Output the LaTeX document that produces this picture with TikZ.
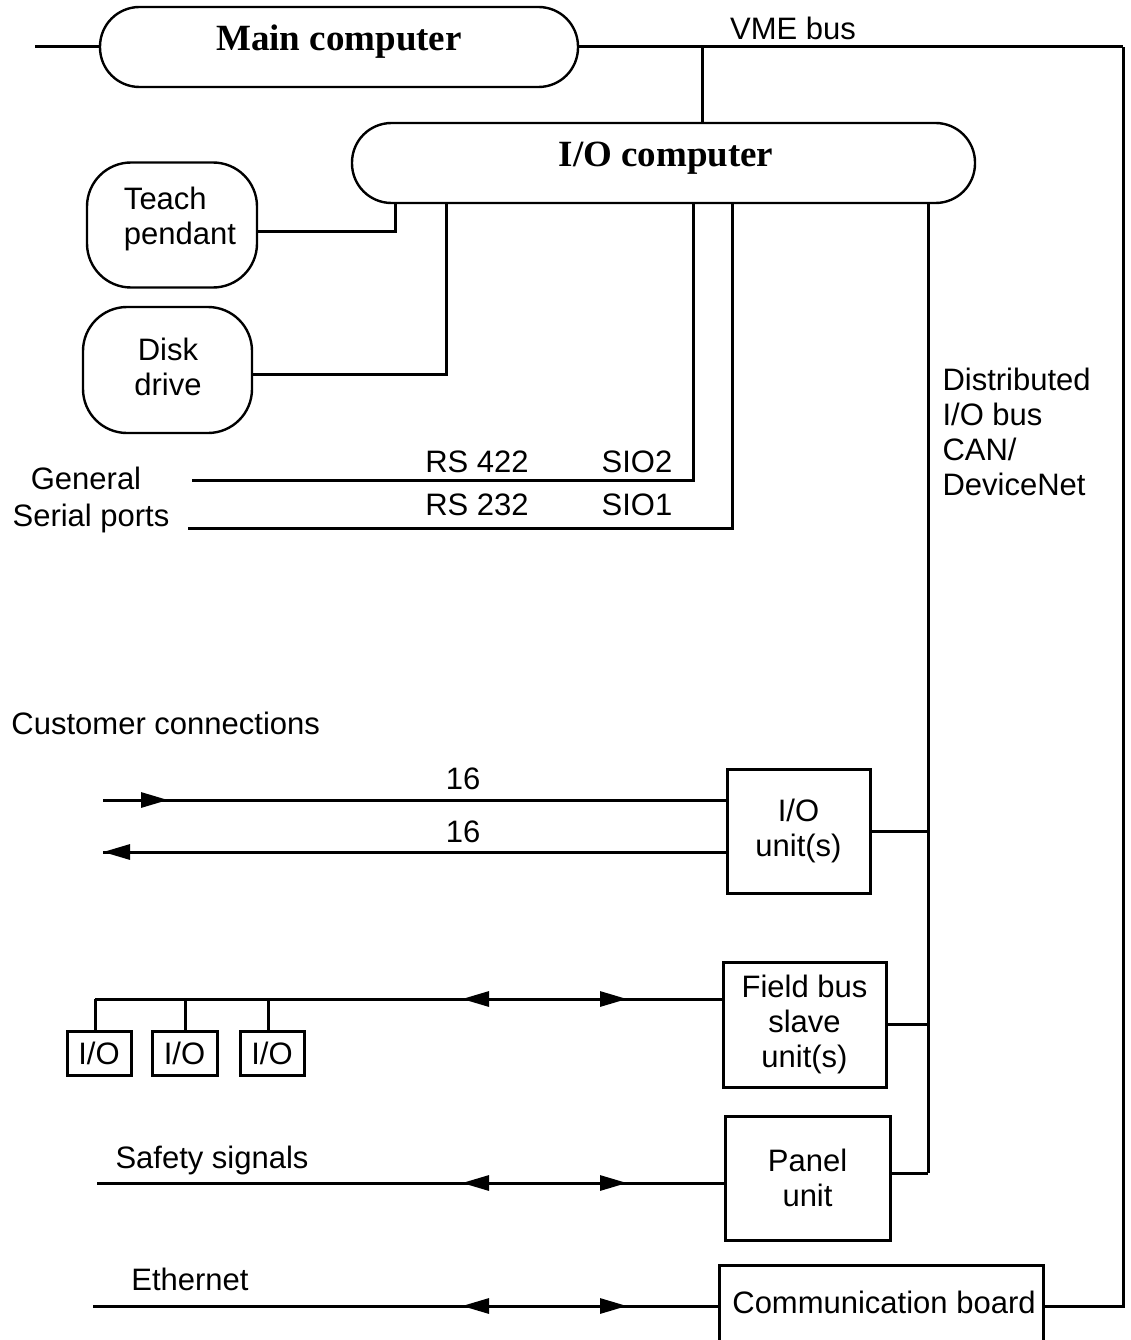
\documentclass[tikz,border=0pt]{standalone}
\usepackage{fontspec}
\setmainfont{Liberation Sans}
\newfontfamily\titlefont{Liberation Serif}
\usetikzlibrary{arrows.meta}
\begin{document}
\begin{tikzpicture}[x=1pt,y=-1pt,
  line width=3pt,
  txt/.style={font=\fontsize{31}{35}\selectfont, inner sep=0pt, align=center},
  ltxt/.style={font=\fontsize{31}{35}\selectfont, inner sep=0pt, align=left},
  title/.style={font=\titlefont\bfseries\fontsize{37}{40}\selectfont, inner sep=0pt},
  stadium/.style={draw, line width=2.4pt, rounded corners=39.5pt, inner sep=0pt},
  softbox/.style={draw, line width=2.4pt, rounded corners=44pt, inner sep=0pt},
  unitbox/.style={draw, inner sep=0pt, font=\fontsize{31}{35}\selectfont, align=center},
  tip/.style={-{Triangle[length=27pt,width=15pt]}}
]
\useasboundingbox (0,0) rectangle (1131,1340);

% computers
\node[stadium, minimum width=478pt, minimum height=80pt] (mc) at (339,47) {};
\node[title] (mct) at (339,42) {Main computer};
\node[stadium, minimum width=623pt, minimum height=80pt] (ioc) at (663.5,163) {};
\node[title] (ioct) at (666,158) {I/O computer};

% VME bus
\coordinate (vmeL) at (35,47);
\coordinate (vmeJ) at (702,47);
\coordinate (vmeTR) at (1123,47);
\node[txt] (vme) at (793,28) {VME bus};
\draw (vmeL) -- (mc.west);
\draw (mc.east) -- (vmeTR);
\draw (vmeJ) -- (vmeJ |- ioc.north);

% teach pendant and disk drive
\node[softbox, minimum width=170pt, minimum height=125pt] (tp) at (172,225) {};
\node[ltxt] (tpt) at (180,219) {Teach\\pendant};
\node[softbox, minimum width=169pt, minimum height=126pt] (dd) at (167.5,370) {};
\node[txt] (ddt) at (168,367) {Disk\\drive};
\coordinate (t1) at (395,232);
\coordinate (d1) at (446,374);
\draw (tp.east |- t1) -- (t1) -- (t1 |- ioc.south);
\draw (dd.east |- d1) -- (d1) -- (d1 |- ioc.south);

% serial ports
\coordinate (s2) at (693,480);
\coordinate (s2L) at (192,480);
\coordinate (s1) at (732,528);
\coordinate (s1L) at (188,528);
\draw (s2L) -- (s2) -- (s2 |- ioc.south);
\draw (s1L) -- (s1) -- (s1 |- ioc.south);
\node[txt] (rs422) at (477,462) {RS 422};
\node[txt] (sio2) at (637,462) {SIO2};
\node[txt] (rs232) at (477,505) {RS 232};
\node[txt] (sio1) at (637,505) {SIO1};
\node[txt] (gen) at (86,478) {General};
\node[txt] (ser) at (91,518) {Serial ports};

% distributed I/O bus
\coordinate (busT) at (928,203);
\coordinate (busB) at (928,1173);
\draw (busT |- ioc.south) -- (busB);
\node[ltxt, anchor=north west] (dist) at (941,367) {Distributed\\I/O bus\\CAN/\\DeviceNet};

% I/O unit
\node[txt, anchor=west] (cc) at (10,723) {Customer connections};
\node[unitbox, minimum width=143pt, minimum height=124pt] (iou) at (798.5,831) {I/O\\unit(s)};
\coordinate (in1) at (103,800);
\coordinate (in1T) at (168,800);
\coordinate (out1) at (103,852);
\coordinate (out1S) at (140,852);
\draw (in1) -- (in1 -| iou.west);
\draw[tip] (in1) -- (in1T);
\draw (out1 -| iou.west) -- (out1);
\draw[tip] (out1S) -- (out1);
\node[txt] (n16a) at (463,779) {16};
\node[txt] (n16b) at (463,832) {16};
\draw (iou.east) -- (iou.east -| busB);

% field bus
\node[unitbox, minimum width=163pt, minimum height=125pt] (fb) at (804.5,1024.5) {Field bus\\slave\\unit(s)};
\coordinate (fbL) at (95,999);
\coordinate (fbA) at (495,999);
\coordinate (fbAt) at (462,999);
\coordinate (fbB) at (595,999);
\coordinate (fbBt) at (627,999);
\draw (fbL) -- (fbL -| fb.west);
\draw[tip] (fbA) -- (fbAt);
\draw[tip] (fbB) -- (fbBt);
\draw (fb.east) -- (fb.east -| busB);
\node[unitbox, minimum width=64pt, minimum height=44pt] (io1) at (99,1053) {I/O};
\node[unitbox, minimum width=65pt, minimum height=44pt] (io2) at (184.5,1053) {I/O};
\node[unitbox, minimum width=64pt, minimum height=44pt] (io3) at (272,1053) {I/O};
\coordinate (v1) at (95,999);
\coordinate (v2) at (185,999);
\coordinate (v3) at (268,999);
\draw (v1) -- (v1 |- io1.north);
\draw (v2) -- (v2 |- io2.north);
\draw (v3) -- (v3 |- io3.north);

% panel unit
\node[unitbox, minimum width=165pt, minimum height=124pt] (pu) at (807.5,1178) {Panel\\unit};
\coordinate (saf) at (97,1183);
\coordinate (safA) at (495,1183);
\coordinate (safAt) at (462,1183);
\coordinate (safB) at (595,1183);
\coordinate (safBt) at (627,1183);
\draw (saf) -- (saf -| pu.west);
\draw[tip] (safA) -- (safAt);
\draw[tip] (safB) -- (safBt);
\draw (pu.east |- busB) -- (busB);
\node[txt] (saft) at (212,1160) {Safety signals};

% communication board
\node[inner sep=0pt, minimum width=321pt, minimum height=90pt] (cb) at (881.5,1312) {};
\draw (cb.south west) -- (cb.north west) -- (cb.north east) -- (cb.south east);
\node[txt] (cbt) at (884,1302) {Communication board};
\coordinate (eth) at (93,1306);
\coordinate (ethA) at (495,1306);
\coordinate (ethAt) at (462,1306);
\coordinate (ethB) at (595,1306);
\coordinate (ethBt) at (627,1306);
\draw (eth) -- (eth -| cb.west);
\draw[tip] (ethA) -- (ethAt);
\draw[tip] (ethB) -- (ethBt);
\node[txt] (etht) at (190,1279) {Ethernet};
\draw (cb.east |- eth) -| (vmeTR);
\end{tikzpicture}
\end{document}
